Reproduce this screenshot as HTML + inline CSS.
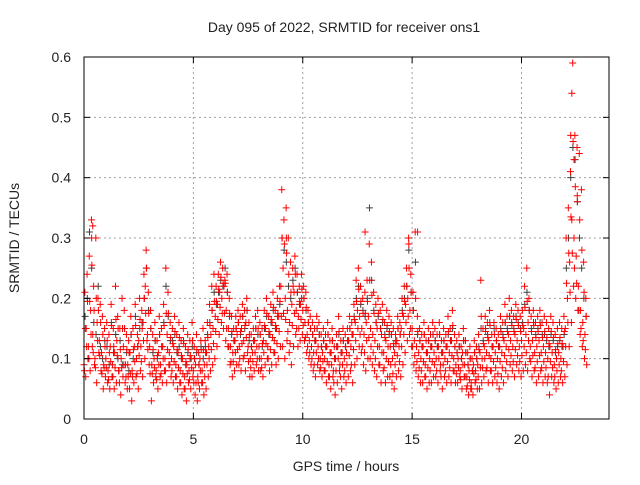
<!DOCTYPE html>
<html><head><meta charset="utf-8"><style>
body{margin:0;background:#fff}
svg text{font-family:"Liberation Sans",sans-serif;fill:#222}
</style></head><body>
<svg id="chart" width="640" height="480" xmlns="http://www.w3.org/2000/svg">
<rect width="640" height="480" fill="#fff"/>
<text x="344" y="32" font-size="14" text-anchor="middle">Day 095 of 2022, SRMTID for receiver ons1</text>
<text x="346" y="471" font-size="14" text-anchor="middle">GPS time / hours</text>
<text transform="translate(19,238) rotate(-90)" font-size="14" text-anchor="middle">SRMTID / TECUs</text>
<g id="grid"></g>
<g id="gray"></g>
<g id="red"></g>
<g id="axes"></g>
</svg>
<script>
const xTicks=[0,5,10,15,20];
const yTicks=[0,0.1,0.2,0.3,0.4,0.5,0.6];
const yTickLabels=["0","0.1","0.2","0.3","0.4","0.5","0.6"];
const sampleStep=0.1;
const redA=[.09,.15,.12,.18,.14,.10,.16,.13,.11,.09,.10,.08,.12,.09,.11,.13,.08,.10,.12,.09,.09,.11,.08,.12,.10,.13,.12,.16,.22,.14,.12,.09,.10,.08,.11,.09,.12,.10,.14,.11,.10,.12,.09,.11,.08,.10,.07,.09,.08,.10,.08,.09,.07,.10,.08,.09,.11,.12,.14,.15,.17,.19,.21,.20,.22,.18,.15,.12,.11,.13,.14,.12,.15,.13,.16,.12,.10,.11,.13,.12,.12,.10,.13,.15,.12,.14,.16,.13,.15,.17,.22,.25,.20,.18,.16,.19,.21,.18,.17,.19,.18,.16,.14,.13,.12,.11,.13,.12,.10,.11,.10,.12,.09,.11,.08,.10,.12,.09,.11,.10,.11,.13,.12,.14,.16,.18,.17,.15,.14,.16,.17,.15,.14,.13,.15,.12,.14,.11,.13,.12,.12,.10,.11,.13,.12,.15,.17,.19,.20,.18,.15,.13,.12,.11,.10,.12,.09,.11,.10,.12,.11,.10,.12,.09,.11,.10,.12,.11,.13,.10,.09,.10,.08,.11,.09,.07,.08,.06,.09,.08,.09,.11,.10,.12,.11,.13,.10,.12,.11,.10,.12,.11,.13,.12,.14,.13,.12,.14,.13,.12,.13,.15,.14,.16,.12,.13,.11,.12,.13,.11,.12,.11,.10,.12,.11,.09,.10,.11,.10,.12,.15,.20,.26,.33,.30,.27,.22,.18,.16,.14];
const redB=[.21,.24,.27,.33,.22,.30,.20,.19,.17,.15,.16,.14,.19,.15,.22,.17,.15,.20,.18,.14,.13,.17,.15,.19,.14,.20,.18,.24,.28,.21,.18,.14,.16,.13,.17,.15,.19,.25,.21,.16,.15,.17,.14,.16,.13,.15,.12,.14,.13,.16,.12,.14,.11,.13,.15,.13,.16,.19,.22,.24,.22,.24,.26,.25,.23,.24,.20,.17,.15,.17,.18,.17,.19,.18,.20,.16,.14,.15,.17,.18,.16,.15,.18,.20,.17,.19,.21,.18,.20,.22,.38,.33,.35,.30,.26,.25,.27,.24,.22,.24,.22,.21,.18,.17,.16,.15,.17,.16,.14,.15,.14,.16,.13,.15,.12,.14,.17,.13,.15,.14,.15,.17,.16,.19,.23,.25,.22,.20,.21,.23,.29,.26,.21,.19,.20,.18,.19,.16,.18,.17,.16,.15,.14,.17,.16,.20,.22,.25,.30,.24,.21,.31,.17,.15,.14,.16,.13,.15,.14,.16,.15,.14,.16,.13,.15,.14,.17,.15,.18,.14,.13,.14,.12,.15,.13,.11,.12,.10,.13,.12,.14,.23,.15,.17,.16,.18,.14,.16,.15,.14,.17,.16,.19,.17,.20,.18,.17,.19,.18,.17,.18,.22,.25,.20,.17,.18,.16,.17,.18,.16,.17,.16,.15,.17,.16,.14,.15,.16,.15,.17,.30,.35,.41,.59,.47,.45,.44,.38,.26,.20];
const redC=[.07,.10,.08,.12,.09,.06,.11,.08,.05,.07,.06,.05,.07,.05,.06,.08,.04,.07,.06,.05,.05,.03,.06,.07,.05,.08,.07,.10,.13,.09,.03,.06,.07,.05,.07,.06,.08,.06,.09,.07,.06,.07,.05,.06,.04,.05,.03,.06,.05,.07,.04,.03,.05,.06,.04,.05,.07,.08,.09,.10,.12,.14,.16,.15,.13,.12,.09,.07,.08,.09,.09,.08,.10,.08,.11,.07,.07,.08,.09,.08,.08,.07,.09,.10,.08,.09,.11,.09,.10,.12,.12,.10,.13,.11,.09,.12,.14,.12,.13,.14,.13,.11,.10,.09,.08,.07,.09,.08,.07,.08,.06,.07,.05,.07,.04,.06,.08,.05,.07,.06,.07,.08,.06,.09,.10,.12,.11,.09,.08,.10,.10,.09,.08,.07,.09,.06,.08,.06,.07,.07,.06,.05,.07,.08,.07,.09,.11,.13,.14,.12,.09,.08,.07,.06,.06,.07,.05,.06,.06,.07,.07,.06,.08,.05,.07,.06,.07,.06,.08,.06,.06,.07,.05,.07,.05,.04,.05,.04,.06,.05,.05,.06,.07,.08,.06,.08,.06,.07,.06,.05,.07,.06,.08,.07,.09,.08,.07,.09,.08,.07,.08,.09,.08,.10,.07,.08,.06,.07,.08,.06,.07,.06,.04,.07,.06,.05,.06,.07,.06,.07,.09,.12,.16,.22,.20,.18,.14,.12,.10,.09];
const redD=[.08,.12,.10,.14,.11,.085,.13,.105,.075,.085,.085,.065,.095,.07,.085,.105,.06,.085,.09,.07,.07,.075,.07,.095,.075,.105,.095,.13,.175,.115,.075,.075,.085,.065,.09,.075,.10,.08,.115,.09,.08,.095,.07,.085,.06,.075,.05,.075,.065,.085,.06,.06,.06,.08,.06,.07,.09,.10,.115,.125,.145,.165,.185,.175,.175,.15,.12,.095,.095,.11,.115,.10,.125,.105,.135,.095,.085,.095,.11,.10,.10,.085,.11,.125,.10,.115,.135,.11,.125,.145,.17,.175,.165,.145,.125,.155,.175,.15,.15,.165,.155,.135,.12,.11,.10,.09,.11,.10,.085,.095,.08,.095,.07,.09,.06,.08,.10,.07,.09,.08,.09,.105,.09,.115,.13,.15,.14,.12,.11,.13,.135,.12,.11,.10,.12,.09,.11,.085,.10,.095,.09,.075,.09,.105,.095,.12,.14,.16,.17,.15,.12,.105,.095,.085,.08,.095,.07,.085,.08,.095,.09,.08,.10,.07,.09,.08,.095,.085,.105,.08,.075,.085,.065,.09,.07,.055,.065,.05,.075,.065,.07,.085,.085,.10,.085,.105,.08,.095,.085,.075,.095,.085,.105,.095,.115,.105,.095,.115,.105,.095,.105,.12,.11,.13,.095,.105,.085,.095,.105,.085,.095,.085,.07,.095,.085,.07,.08,.09,.08,.095,.12,.16,.21,.275,.25,.225,.18,.15,.13,.115];
const redE=[.15,.195,.195,.255,.18,.20,.18,.16,.14,.12,.13,.11,.155,.12,.165,.15,.115,.15,.15,.115,.11,.14,.115,.155,.12,.165,.15,.20,.25,.175,.15,.115,.13,.105,.14,.12,.155,.175,.175,.135,.125,.145,.115,.135,.105,.125,.095,.115,.105,.13,.10,.115,.09,.115,.115,.11,.135,.155,.18,.195,.195,.215,.235,.225,.225,.21,.175,.145,.13,.15,.16,.145,.17,.155,.18,.14,.12,.13,.15,.15,.14,.125,.155,.175,.145,.165,.185,.155,.175,.195,.30,.29,.275,.24,.21,.22,.24,.21,.195,.215,.20,.185,.16,.15,.14,.13,.15,.14,.12,.13,.12,.14,.11,.13,.10,.12,.145,.11,.13,.12,.13,.15,.14,.165,.195,.215,.195,.175,.175,.195,.23,.205,.175,.16,.175,.15,.165,.135,.155,.145,.14,.125,.125,.15,.14,.175,.195,.22,.25,.21,.18,.20,.145,.13,.12,.14,.11,.13,.12,.14,.13,.12,.14,.11,.13,.12,.145,.13,.155,.12,.11,.12,.10,.13,.11,.09,.10,.08,.11,.10,.115,.17,.125,.145,.135,.155,.12,.14,.13,.12,.145,.135,.16,.145,.17,.155,.145,.165,.155,.145,.155,.185,.195,.18,.145,.155,.135,.145,.155,.135,.145,.135,.125,.145,.135,.115,.125,.135,.125,.145,.225,.275,.335,.46,.385,.36,.33,.28,.21,.17];
const grayV=[.17,.20,.31,.25,.16,.14,.22,.12,.10,.13,.12,.09,.16,.11,.14,.10,.13,.09,.15,.11,.08,.14,.10,.17,.12,.15,.16,.20,.25,.18,.15,.11,.13,.10,.14,.12,.16,.22,.17,.13,.13,.14,.11,.12,.10,.13,.09,.11,.10,.12,.10,.11,.09,.12,.10,.12,.14,.16,.18,.21,.19,.21,.23,.22,.25,.21,.17,.14,.13,.15,.16,.14,.17,.15,.18,.13,.12,.13,.15,.14,.14,.12,.15,.17,.14,.16,.18,.15,.17,.19,.30,.28,.26,.22,.20,.23,.25,.21,.19,.20,.20,.18,.16,.15,.14,.13,.15,.14,.12,.13,.12,.14,.11,.13,.10,.12,.14,.11,.13,.12,.13,.15,.14,.17,.20,.22,.19,.18,.17,.20,.35,.23,.18,.16,.17,.15,.16,.14,.15,.14,.14,.12,.13,.15,.14,.18,.20,.22,.28,.21,.18,.26,.14,.13,.12,.14,.11,.13,.12,.14,.13,.12,.14,.11,.13,.12,.14,.13,.15,.12,.11,.12,.10,.13,.11,.09,.10,.08,.11,.10,.12,.15,.13,.15,.14,.16,.12,.15,.13,.12,.15,.14,.16,.15,.17,.16,.15,.17,.16,.15,.16,.19,.21,.18,.15,.16,.14,.15,.16,.14,.14,.13,.12,.14,.13,.11,.12,.13,.12,.14,.25,.30,.40,.45,.43,.36,.30,.25,.20,.17];
const extraHours=[0.35,22.3,22.25,22.4,22.55,9.25,12.85,14.85,15.25,0.4];
const extraTec=[0.30,0.54,0.47,0.43,0.37,0.30,0.31,0.29,0.31,0.32];

const X0=84,X1=609,Y0=419,Y1=57,XMAX=24,YMAX=0.6;
const xs=h=>X0+(X1-X0)*h/XMAX;
const ys=v=>Y0-(Y0-Y1)*v/YMAX;
const NS="http://www.w3.org/2000/svg";
function mk(tag,attrs,parent){const e=document.createElementNS(NS,tag);for(const k in attrs)e.setAttribute(k,attrs[k]);parent.appendChild(e);return e;}
const grid=document.getElementById('grid'),axes=document.getElementById('axes');
yTicks.forEach((t,i)=>{
  const y=ys(t);
  if(i>0&&i<yTicks.length-1){const g=mk('line',{x1:X0,x2:X1,y1:y,y2:y,stroke:'#a0a0a0','stroke-dasharray':'2,3'},grid);
  
  }
  mk('line',{x1:X0,x2:X0+6,y1:y,y2:y,stroke:'#000'},axes);
  mk('line',{x1:X1,x2:X1-6,y1:y,y2:y,stroke:'#000'},axes);
  const tx=mk('text',{x:71,y:y+5,'font-size':14,'text-anchor':'end'},axes);
  tx.textContent=yTickLabels[i];
  
  
});
xTicks.forEach(t=>{
  const x=xs(t);
  if(t>0){const g=mk('line',{x1:x,x2:x,y1:Y0,y2:Y1,stroke:'#a0a0a0','stroke-dasharray':'2,3'},grid);
  
  }
  mk('line',{x1:x,x2:x,y1:Y0,y2:Y0-6,stroke:'#000'},axes);
  mk('line',{x1:x,x2:x,y1:Y1,y2:Y1+6,stroke:'#000'},axes);
  const tx=mk('text',{x:x,y:444,'font-size':14,'text-anchor':'middle'},axes);
  tx.textContent=String(t);
  
  
});
const fr=mk('rect',{x:X0,y:Y1,width:X1-X0,height:Y0-Y1,fill:'none',stroke:'#000'},axes);


function plus(g,h,v,col){
  const x=xs(h),y=ys(v);
  const p=mk('path',{d:`M${x-3.5} ${y}h7M${x} ${y-3.5}v7`,stroke:col,'stroke-width':1,fill:'none'},g);
  
  
}
const grayG=document.getElementById('gray'),redG=document.getElementById('red');
grayV.forEach((v,i)=>plus(grayG,i*sampleStep+0.05,v,'#404040'));
const redSeries=[redA,redD,redB,redE,redC];
redSeries.forEach((arr,k)=>arr.forEach((v,i)=>plus(redG,i*sampleStep+k*0.02,v,'#ff0000')));
extraHours.forEach((h,i)=>plus(redG,h,extraTec[i],'#ff0000'));
</script>
</body></html>
